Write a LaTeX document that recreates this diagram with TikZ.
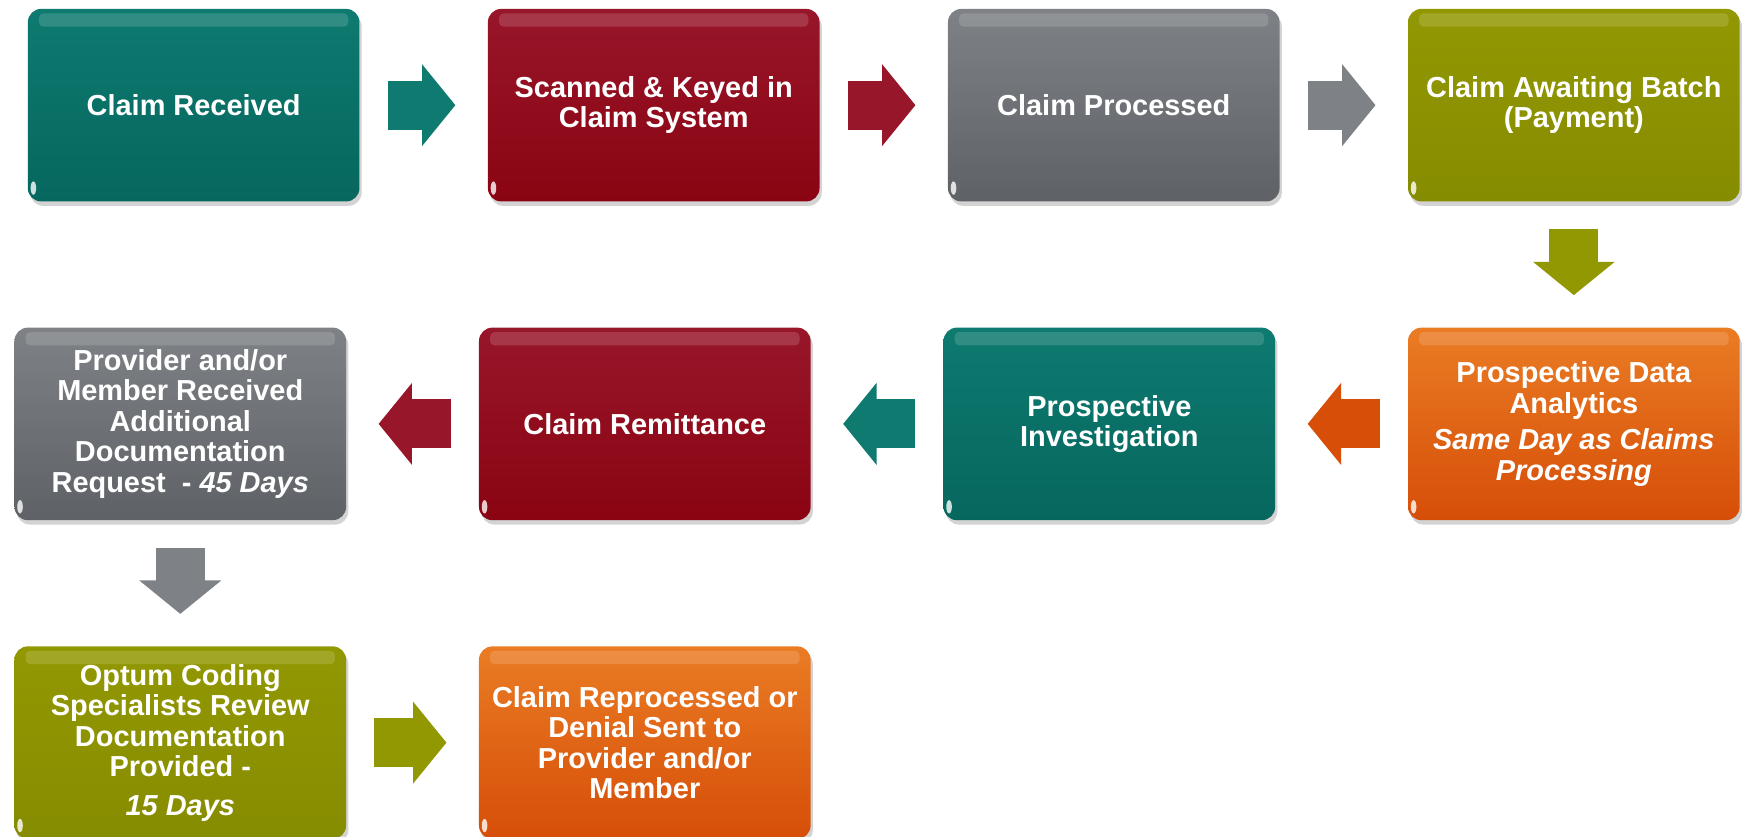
\documentclass[tikz,border=0pt]{standalone}
\usepackage{fontspec}
\setmainfont{Liberation Sans}
\usepackage{tikz}
\usetikzlibrary{arrows.meta, positioning, shadows}

\definecolor{tealtop}{RGB}{14,122,112}
\definecolor{tealbot}{RGB}{6,103,94}
\definecolor{redtop}{RGB}{152,22,42}
\definecolor{redbot}{RGB}{138,4,18}
\definecolor{graytop}{RGB}{126,129,133}
\definecolor{graybot}{RGB}{94,98,102}
\definecolor{olivetop}{RGB}{146,152,2}
\definecolor{olivebot}{RGB}{134,140,0}
\definecolor{orangetop}{RGB}{234,124,36}
\definecolor{orangebot}{RGB}{214,78,8}

\begin{document}
\begin{tikzpicture}[
        x=1pt, y=1pt,
        block/.style={rectangle, rounded corners=12pt, minimum width=298pt, minimum height=173pt,
            align=center, text=white, font=\fontsize{26}{27.5}\selectfont\bfseries,
            drop shadow={shadow xshift=2pt, shadow yshift=-4pt, opacity=0.35},
            path picture={
                \fill[white, opacity=0.15, rounded corners=4pt] ([xshift=10pt,yshift=-4pt]path picture bounding box.north west)
                    rectangle ([xshift=-10pt,yshift=-16pt]path picture bounding box.north east);
                \fill[white, opacity=0.8] ([xshift=5pt,yshift=12pt]path picture bounding box.south west)
                    ellipse (2.5pt and 6pt);
            }},
        teal/.style={block, top color=tealtop, bottom color=tealbot},
        red/.style={block, top color=redtop, bottom color=redbot},
        gray/.style={block, top color=graytop, bottom color=graybot},
        olive/.style={block, top color=olivetop, bottom color=olivebot},
        orange/.style={block, top color=orangetop, bottom color=orangebot},
        arrow/.style={line width=44pt, -{Triangle[length=30pt,width=72pt]}, shorten <=25pt, shorten >=29pt}
    ]
        \useasboundingbox (0,0) rectangle (1568,-752);

        % Row 1
        \node[teal] (recv) at (174,-94.5) {Claim Received};
        \node[red] (scan) [right=115pt of recv] {Scanned \& Keyed in\\Claim System};
        \node[gray] (proc) [right=115pt of scan] {Claim Processed};
        \node[olive] (batch) [right=115pt of proc] {Claim Awaiting Batch\\(Payment)};

        % Row 2
        \node[orange] (analytics) [below=113pt of batch] {Prospective Data\\Analytics\\[5pt]\textit{Same Day as Claims}\\\textit{Processing}};
        \node[teal] (invest) [left=119pt of analytics] {Prospective\\Investigation};
        \node[red] (remit) [left=119pt of invest] {Claim Remittance};
        \node[gray] (adr) [left=119pt of remit] {Provider and/or\\Member Received\\Additional\\Documentation\\Request\ \ - \textit{45 Days}};

        % Row 3
        \node[olive] (coding) [below=113pt of adr] {Optum Coding\\Specialists Review\\Documentation\\Provided -\\[7pt]\textit{15 Days}};
        \node[orange] (reproc) [right=119pt of coding] {Claim Reprocessed or\\Denial Sent to\\Provider and/or\\Member};

        % Arrows
        \draw[arrow, tealtop] (recv) -- (scan);
        \draw[arrow, redtop] (scan) -- (proc);
        \draw[arrow, graytop] (proc) -- (batch);
        \draw[arrow, olivetop] (batch) -- (analytics);

        \draw[arrow, orangebot] (analytics) -- (invest);
        \draw[arrow, tealtop] (invest) -- (remit);
        \draw[arrow, redtop] (remit) -- (adr);
        \draw[arrow, graytop] (adr) -- (coding);

        \draw[arrow, olivetop] (coding) -- (reproc);
    \end{tikzpicture}
\end{document}
